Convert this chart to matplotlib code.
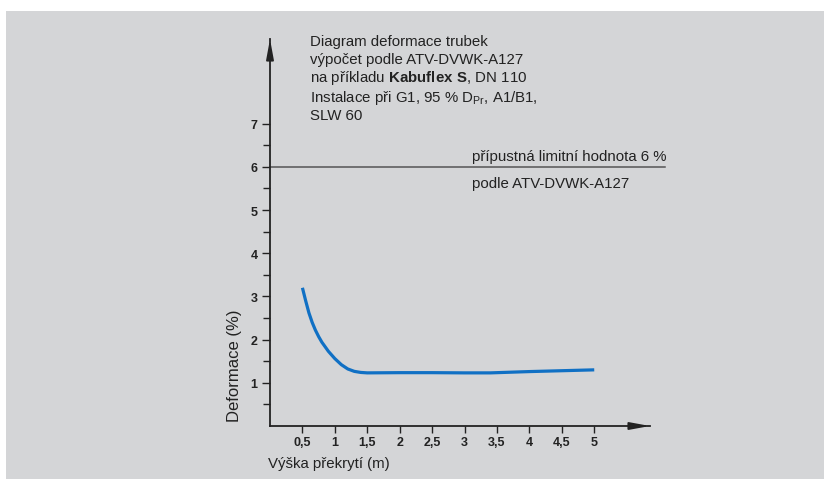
import matplotlib
matplotlib.use("Agg")
import matplotlib.pyplot as plt
from matplotlib.patches import Rectangle

# Datos
vyska = [0.5, 0.55, 0.6, 0.65, 0.7, 0.75, 0.8, 0.9, 1.0, 1.1, 1.2, 1.3, 1.4, 1.5,
         2.0, 2.5, 3.0, 3.4, 4.0, 4.5, 5.0]
deformace = [3.2, 2.9, 2.62, 2.4, 2.22, 2.07, 1.94, 1.73, 1.56, 1.42, 1.32, 1.265, 1.24, 1.23,
             1.235, 1.235, 1.23, 1.23, 1.26, 1.28, 1.30]
limit = 6

x_ticks = [0.5, 1, 1.5, 2, 2.5, 3, 3.5, 4, 4.5, 5]
x_labels = ["0,5", "1", "1,5", "2", "2,5", "3", "3,5", "4", "4,5", "5"]
y_ticks = [1, 2, 3, 4, 5, 6, 7]
y_minor = [0.5, 1.5, 2.5, 3.5, 4.5, 5.5, 6.5]

texto = "Liberation Sans"

plt.rcParams["mathtext.fontset"] = "custom"
plt.rcParams["mathtext.rm"] = texto
plt.rcParams["mathtext.bf"] = texto + ":bold"

W, H = 828, 481
fig = plt.figure(figsize=(W / 100, H / 100), dpi=100, facecolor="white")
# fondo gris
fig.patches.append(Rectangle((6 / W, 1 / H), 818 / W, (H - 13) / H,
                             transform=fig.transFigure, facecolor="#d4d5d7",
                             edgecolor="none", zorder=-10))

ax = fig.add_axes([270 / W, 54 / H, 380 / W, 387 / H])
ax.set_zorder(5)
ax.set_facecolor("none")
ax.set_xlim(0, 5.86)
ax.set_ylim(0, 8.96)

for s in ["top", "right"]:
    ax.spines[s].set_visible(False)
for s in ["left", "bottom"]:
    ax.spines[s].set_color("#222222")
    ax.spines[s].set_linewidth(1.3)

# flechas de los ejes
flecha = dict(arrowstyle="-|>,head_length=1.2,head_width=0.22", color="#222222", lw=1.3,
              shrinkA=0, shrinkB=0)
ax.annotate("", xy=(0, 1.0), xytext=(0, 0.95), xycoords="axes fraction", arrowprops=flecha)
ax.annotate("", xy=(1.0, 0), xytext=(0.95, 0), xycoords="axes fraction", arrowprops=flecha)

ax.set_xticks(x_ticks)
ax.set_xticklabels(x_labels)
ax.set_yticks(y_ticks)
ax.set_yticks(y_minor, minor=True)
ax.tick_params(axis="x", length=5, width=1, color="#222222", pad=2)
ax.tick_params(axis="y", which="major", length=6, width=1, color="#222222", pad=3)
ax.tick_params(axis="y", which="minor", length=5, width=1, color="#222222")
for lab in ax.get_xticklabels() + ax.get_yticklabels():
    lab.set_fontfamily(texto)
    lab.set_fontweight("bold")
    lab.set_fontsize(9)
    lab.set_color("#222222")

# línea límite 6 %
ax.axhline(limit, xmin=0, xmax=1.04, color="#555555", lw=1.1, clip_on=False)

# curva de deformación
ax.plot(vyska, deformace, color="#1070c4", lw=2.3, solid_capstyle="butt",
        solid_joinstyle="round")

# textos
c = "#222222"
fs = 10.8
fig.text(310 / W, 1 - 42 / H, "Diagram deformace trubek", fontfamily=texto, fontsize=fs, color=c, va="center")
fig.text(310 / W, 1 - 60 / H, "výpočet podle ATV-DVWK-A127", fontfamily=texto, fontsize=fs, color=c, va="center")
fig.text(310 / W, 1 - 78 / H, r"na příkladu $\mathbf{Kabuflex\ S}$, DN 110", fontfamily=texto, fontsize=fs, color=c, va="center")
fig.text(310 / W, 1 - 98 / H, r"Instalace při G1, 95 % D$_\mathrm{Pr}$, A1/B1,", fontfamily=texto, fontsize=fs, color=c, va="center")
fig.text(310 / W, 1 - 116 / H, "SLW 60", fontfamily=texto, fontsize=fs, color=c, va="center")

fig.text(472 / W, 1 - 157 / H, "přípustná limitní hodnota 6 %", fontfamily=texto, fontsize=fs, color=c, va="center")
fig.text(472 / W, 1 - 184 / H, "podle ATV-DVWK-A127", fontfamily=texto, fontsize=fs, color=c, va="center")

fig.text(235 / W, 1 - 366 / H, "Deformace (%)", fontfamily=texto, fontsize=12, color=c,
         rotation=90, va="center", ha="center")
fig.text(268 / W, 1 - 464 / H, "Výška překrytí (m)", fontfamily=texto, fontsize=fs, color=c, va="center")

fig.savefig("out.png", dpi=100, facecolor="white")
